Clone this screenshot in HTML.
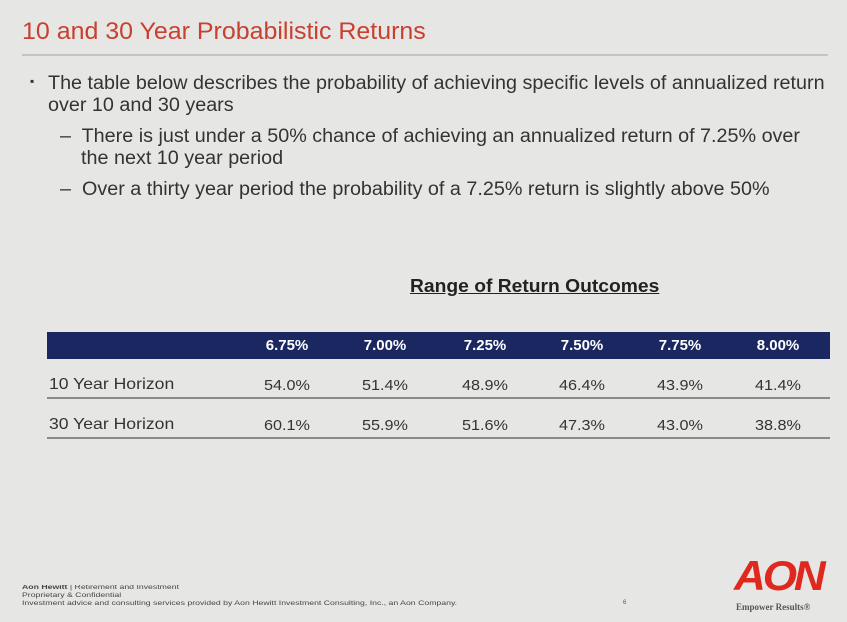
<!DOCTYPE html>
<html><head><meta charset="utf-8"><style>
body{margin:0;width:847px;height:622px;background:#e6e7e5;position:relative;overflow:hidden;font-family:"Liberation Sans",sans-serif}
.a{position:absolute;white-space:nowrap;transform-origin:0 0}
.t{color:#333;font-size:19px}
.c{font-family:"Liberation Sans",sans-serif;font-size:15px;color:#333;position:absolute;white-space:nowrap;transform:translateX(-50%) scaleX(1.08)}
</style></head><body>
<div class="a" style="left:22px;top:18px;font-size:24px;color:#c8402f;transform:scaleX(1.04)">10 and 30 Year Probabilistic Returns</div>
<div style="position:absolute;left:22px;top:54px;width:806px;height:2px;background:#c4c4c4"></div>
<div class="a t" style="left:30px;top:74px;font-size:12px">▪</div>
<div class="a t" style="left:48px;top:73px;transform:scaleX(1.04)">The table below describes the probability of achieving specific levels of annualized return</div>
<div class="a t" style="left:48px;top:95px;transform:scaleX(1.04)">over 10 and 30 years</div>
<div class="a t" style="left:60px;top:126px;transform:scaleX(1.04)">–&nbsp; There is just under a 50% chance of achieving an annualized return of 7.25% over</div>
<div class="a t" style="left:81px;top:148px;transform:scaleX(1.04)">the next 10 year period</div>
<div class="a t" style="left:60px;top:179px;transform:scaleX(1.04)">–&nbsp; Over a thirty year period the probability of a 7.25% return is slightly above 50%</div>
<div class="a" style="left:410px;top:276px;font-size:18px;font-weight:bold;color:#222;text-decoration:underline;transform:scaleX(1.07)">Range of Return Outcomes</div>
<div style="position:absolute;left:47px;top:332px;width:783px;height:27px;background:#1b2760"></div>
<div style="position:absolute;left:47px;top:397px;width:783px;height:2px;background:#8a8a8a"></div>
<div style="position:absolute;left:47px;top:437px;width:783px;height:2px;background:#8a8a8a"></div>
<div class="c" style="left:287px;top:337px;color:#fff;font-weight:bold;transform:translateX(-50%) scaleX(1)">6.75%</div>
<div class="c" style="left:385px;top:337px;color:#fff;font-weight:bold;transform:translateX(-50%) scaleX(1)">7.00%</div>
<div class="c" style="left:485px;top:337px;color:#fff;font-weight:bold;transform:translateX(-50%) scaleX(1)">7.25%</div>
<div class="c" style="left:582px;top:337px;color:#fff;font-weight:bold;transform:translateX(-50%) scaleX(1)">7.50%</div>
<div class="c" style="left:680px;top:337px;color:#fff;font-weight:bold;transform:translateX(-50%) scaleX(1)">7.75%</div>
<div class="c" style="left:778px;top:337px;color:#fff;font-weight:bold;transform:translateX(-50%) scaleX(1)">8.00%</div>
<div class="a" style="left:49px;top:376px;font-size:16px;color:#333;transform:scaleX(1.1)">10 Year Horizon</div>
<div class="c" style="left:287px;top:377px">54.0%</div><div class="c" style="left:385px;top:377px">51.4%</div><div class="c" style="left:485px;top:377px">48.9%</div><div class="c" style="left:582px;top:377px">46.4%</div><div class="c" style="left:680px;top:377px">43.9%</div><div class="c" style="left:778px;top:377px">41.4%</div>
<div class="a" style="left:49px;top:416px;font-size:16px;color:#333;transform:scaleX(1.1)">30 Year Horizon</div>
<div class="c" style="left:287px;top:417px">60.1%</div><div class="c" style="left:385px;top:417px">55.9%</div><div class="c" style="left:485px;top:417px">51.6%</div><div class="c" style="left:582px;top:417px">47.3%</div><div class="c" style="left:680px;top:417px">43.0%</div><div class="c" style="left:778px;top:417px">38.8%</div>
<div class="a" style="left:22px;top:584px;font-size:6px;color:#444;line-height:8px;transform:scaleX(1.45)"><b>Aon Hewitt</b> | Retirement and Investment<br>Proprietary &amp; Confidential<br>Investment advice and consulting services provided by Aon Hewitt Investment Consulting, Inc., an Aon Company.</div>
<div class="a" style="left:623px;top:600px;font-size:6px;color:#555">6</div>
<div class="a" style="left:734px;top:552px;font-size:42px;font-weight:bold;font-style:italic;color:#e0281f;letter-spacing:-3px;transform:scaleX(1.05)">AON</div>
<div class="a" style="left:736px;top:602px;font-size:9px;font-weight:bold;color:#555;font-family:'Liberation Serif',serif">Empower Results®</div>
</body></html>
